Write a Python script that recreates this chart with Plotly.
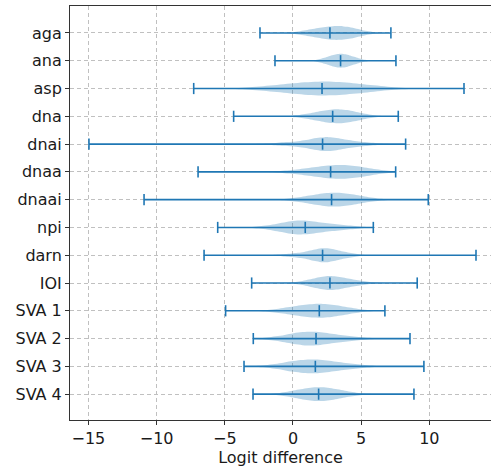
import plotly.graph_objects as go

categories = ["aga", "ana", "asp", "dna", "dnai", "dnaa", "dnaai", "npi",
              "darn", "IOI", "SVA 1", "SVA 2", "SVA 3", "SVA 4"]

mins = [-2.42, -1.32, -7.28, -4.35, -14.96, -6.96, -10.92, -5.52,
        -6.52, -3.03, -4.94, -2.91, -3.59, -2.93]
medians = [2.71, 3.49, 2.13, 2.91, 2.17, 2.76, 2.83, 0.90,
           2.17, 2.71, 1.93, 1.69, 1.64, 1.88]
maxs = [7.18, 7.55, 12.54, 7.72, 8.26, 7.53, 9.92, 5.89,
        13.42, 9.11, 6.74, 8.58, 9.60, 8.87]

# representative samples of the core of each distribution (estimated from the violin shapes)
samples = {
    "aga":   [0.9, 1.6, 2.1, 2.5, 2.8, 3.1, 3.4, 3.7, 4.0, 4.4, 5.0],
    "ana":   [2.23, 2.68, 2.94, 3.15, 3.33, 3.5, 3.67, 3.85, 4.06, 4.32, 4.77],
    "asp":   [-1.9, -0.5, 0.4, 1.1, 1.7, 2.2, 2.8, 3.4, 4.0, 4.8, 6.2],
    "dna":   [1.0, 1.8, 2.25, 2.6, 2.9, 3.2, 3.5, 3.8, 4.1, 4.5, 5.2],
    "dnai":  [-0.8, 0.6, 1.4, 1.9, 2.2, 2.45, 2.7, 3.0, 3.5, 4.2, 5.3],
    "dnaa":  [0.1, 1.3, 2.0, 2.5, 2.9, 3.3, 3.7, 4.05, 4.45, 5.0, 5.9],
    "dnaai": [0.5, 1.4, 1.95, 2.35, 2.7, 3.0, 3.35, 3.7, 4.1, 4.6, 5.4],
    "npi":   [-1.6, -0.6, -0.1, 0.2, 0.45, 0.75, 1.1, 1.6, 2.2, 3.0, 4.0],
    "darn":  [-0.2, 0.8, 1.4, 1.8, 2.05, 2.25, 2.45, 2.7, 3.0, 3.5, 4.2],
    "IOI":   [0.9, 1.6, 2.0, 2.3, 2.55, 2.8, 3.05, 3.35, 3.7, 4.2, 5.0],
    "SVA 1": [-0.8, 0.1, 0.65, 1.1, 1.5, 1.85, 2.2, 2.55, 2.95, 3.45, 4.3],
    "SVA 2": [-1.0, -0.1, 0.4, 0.8, 1.1, 1.4, 1.75, 2.15, 2.7, 3.4, 4.5],
    "SVA 3": [-1.1, -0.2, 0.35, 0.8, 1.15, 1.5, 1.85, 2.25, 2.8, 3.5, 4.6],
    "SVA 4": [-0.3, 0.47, 0.93, 1.29, 1.6, 1.9, 2.2, 2.51, 2.87, 3.33, 4.1],
}

x_ticks = [-15, -10, -5, 0, 5, 10]

BLUE = "#1f77b4"
FILL = "rgba(31,119,180,0.3)"

fig = go.Figure()

for i, cat in enumerate(categories):
    vals = samples[cat]
    fig.add_trace(go.Violin(
        x=vals, y=[cat] * len(vals), orientation="h",
        side="both", width=0.5, scalemode="width",
        spanmode="manual", span=[mins[i], maxs[i]],
        fillcolor=FILL, line=dict(color="rgba(31,119,180,0)", width=0),
        points=False, box_visible=False, meanline_visible=False,
        showlegend=False, hoverinfo="skip",
    ))

for i, cat in enumerate(categories):
    fig.add_trace(go.Scatter(
        x=[mins[i], maxs[i]], y=[cat, cat], mode="lines",
        line=dict(color=BLUE, width=1.6), showlegend=False, hoverinfo="skip",
    ))

for arr in (mins, medians, maxs):
    fig.add_trace(go.Scatter(
        x=arr, y=categories, mode="markers",
        marker=dict(symbol="line-ns", size=8,
                    line=dict(color=BLUE, width=1.6)),
        showlegend=False, hoverinfo="skip",
    ))

font = dict(family="DejaVu Sans", size=16, color="#1a1a1a")

fig.update_layout(
    width=491, height=468,
    margin=dict(l=70, r=0, t=6, b=48),
    paper_bgcolor="white", plot_bgcolor="white",
    font=font,
    xaxis=dict(
        range=[-16.35, 14.52], tickvals=x_ticks,
        showgrid=True, gridcolor="#c0c0c0", gridwidth=1, griddash="4px,3px",
        zeroline=False, showline=True, linecolor="#333", linewidth=1, mirror=True,
        ticks="outside", ticklen=4, tickcolor="#333",
        title=dict(text="Logit difference", font=font, standoff=2),
        tickfont=font,
    ),
    yaxis=dict(
        type="category", categoryorder="array", categoryarray=categories,
        range=[13.93, -0.97],
        showgrid=True, gridcolor="#c0c0c0", gridwidth=1, griddash="4px,3px",
        zeroline=False, showline=True, linecolor="#333", linewidth=1,
        ticks="outside", ticklen=4, tickcolor="#333",
        tickfont=font,
    ),
)

fig.write_html("out.html", config={"displayModeBar": False},
               post_script="document.body.style.margin='0px';document.body.style.overflow='hidden';")
